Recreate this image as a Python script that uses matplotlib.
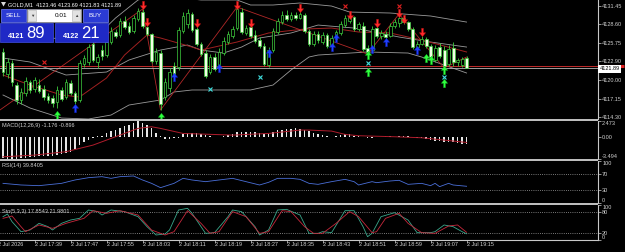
import matplotlib
matplotlib.use('Agg')
import matplotlib.pyplot as plt
from matplotlib.patches import Rectangle, Polygon
from matplotlib.path import Path
from matplotlib.transforms import blended_transform_factory

plt.rcParams['font.family'] = ['Liberation Sans', 'DejaVu Sans']

# ---- values: GOLD M1, bars 17:32 .. 19:15 ----
symbol = 'GOLD,M1'
bid = 4121.89
ask = 4122.21
lot = '0.01'

opens = [4124.34, 4120.95, 4122.64, 4119.26, 4116.96, 4118.03, 4119.72, 4118.65, 4119.26, 4118.65,
         4117.57, 4117.27, 4116.65, 4118.50, 4117.42, 4119.57, 4118.03, 4116.96, 4122.49, 4122.80,
         4125.56, 4122.80, 4124.64, 4123.87, 4125.87, 4127.41, 4126.95, 4129.10, 4128.33, 4127.56,
         4129.41, 4130.48, 4128.18, 4127.10, 4122.95, 4124.18, 4117.42, 4118.80, 4122.18, 4122.03,
         4127.56, 4128.64, 4130.18, 4127.87, 4125.56, 4124.18, 4121.26, 4123.57, 4122.03, 4124.18,
         4125.87, 4126.79, 4128.02, 4130.48, 4127.26, 4128.18, 4126.95, 4126.18, 4125.26, 4122.34,
         4124.64, 4127.41, 4128.94, 4130.02, 4129.41, 4130.02, 4129.56, 4130.02, 4127.56, 4125.56,
         4127.10, 4125.87, 4126.95, 4125.26, 4126.33, 4127.26, 4128.48, 4129.10, 4129.71, 4127.87,
         4128.33, 4124.95, 4124.64, 4128.02, 4126.79, 4127.10, 4126.79, 4128.33, 4128.79, 4129.56,
         4128.94, 4127.87, 4125.10, 4125.56, 4126.33, 4125.26, 4123.11, 4125.10, 4124.64, 4122.49,
         4124.95, 4122.80, 4122.34, 4123.46]
highs = [4124.95, 4123.41, 4123.11, 4119.72, 4118.80, 4120.49, 4120.03, 4120.49, 4120.19, 4119.26,
         4118.03, 4117.73, 4119.11, 4118.96, 4120.19, 4120.03, 4118.34, 4123.11, 4123.87, 4125.56,
         4126.18, 4124.03, 4125.41, 4126.49, 4128.18, 4127.87, 4129.56, 4129.87, 4128.94, 4130.02,
         4131.10, 4130.94, 4128.33, 4127.26, 4124.95, 4124.64, 4120.34, 4121.88, 4122.80, 4128.18,
         4130.48, 4130.94, 4130.48, 4128.18, 4125.87, 4124.64, 4124.03, 4124.18, 4124.95, 4126.64,
         4127.56, 4128.33, 4131.25, 4131.10, 4128.48, 4128.48, 4127.72, 4126.64, 4125.72, 4125.10,
         4128.02, 4129.56, 4130.64, 4130.79, 4130.48, 4130.48, 4130.64, 4130.33, 4127.87, 4127.56,
         4127.56, 4127.41, 4127.26, 4126.95, 4127.72, 4129.10, 4130.02, 4130.18, 4129.87, 4128.94,
         4128.94, 4125.41, 4128.33, 4128.48, 4127.72, 4127.56, 4128.79, 4129.41, 4130.18, 4130.02,
         4129.10, 4128.18, 4126.03, 4126.79, 4126.64, 4125.56, 4125.41, 4125.72, 4125.26, 4125.41,
         4125.87, 4123.41, 4123.57, 4123.69]
lows = [4120.65, 4120.34, 4119.11, 4116.34, 4116.34, 4117.57, 4118.03, 4118.19, 4118.03, 4116.96,
        4116.50, 4115.88, 4115.73, 4116.80, 4117.11, 4117.73, 4116.34, 4116.65, 4122.03, 4122.34,
        4122.80, 4121.88, 4123.11, 4123.57, 4125.56, 4126.49, 4126.64, 4127.87, 4127.10, 4127.26,
        4129.10, 4128.02, 4126.79, 4122.64, 4122.49, 4115.42, 4116.96, 4118.19, 4120.65, 4121.57,
        4127.26, 4128.02, 4127.41, 4125.26, 4123.72, 4120.34, 4120.95, 4121.42, 4121.57, 4123.87,
        4125.56, 4126.49, 4127.72, 4127.10, 4126.95, 4126.49, 4125.72, 4124.95, 4122.18, 4122.03,
        4124.34, 4127.10, 4128.64, 4129.10, 4129.10, 4129.25, 4129.41, 4127.26, 4125.26, 4125.26,
        4125.72, 4125.56, 4124.95, 4124.95, 4126.03, 4126.95, 4128.18, 4128.79, 4127.56, 4127.56,
        4124.49, 4124.03, 4124.34, 4126.49, 4126.33, 4126.18, 4126.64, 4128.02, 4128.18, 4128.64,
        4127.56, 4124.80, 4124.80, 4125.41, 4124.95, 4123.26, 4122.80, 4123.41, 4121.88, 4122.18,
        4122.18, 4122.18, 4122.03, 4121.83]
closes = [4121.26, 4122.80, 4119.72, 4116.96, 4118.19, 4119.88, 4118.50, 4120.03, 4118.34, 4117.42,
          4116.96, 4116.50, 4118.50, 4117.11, 4119.72, 4118.03, 4116.80, 4122.64, 4123.41, 4125.10,
          4123.11, 4123.57, 4123.72, 4125.87, 4127.56, 4126.79, 4129.10, 4128.18, 4127.41, 4129.56,
          4130.64, 4128.33, 4127.10, 4122.95, 4124.34, 4116.34, 4119.72, 4121.26, 4120.95, 4127.72,
          4129.87, 4130.33, 4127.72, 4125.56, 4124.03, 4120.65, 4123.57, 4121.72, 4124.34, 4126.03,
          4127.10, 4127.87, 4130.94, 4127.41, 4128.02, 4126.79, 4126.03, 4125.26, 4122.49, 4124.64,
          4127.56, 4129.10, 4130.02, 4129.41, 4130.02, 4129.56, 4130.18, 4127.56, 4125.56, 4127.10,
          4126.18, 4126.95, 4125.26, 4126.49, 4127.41, 4128.64, 4129.56, 4129.71, 4127.87, 4128.64,
          4124.80, 4124.34, 4127.87, 4126.79, 4127.26, 4126.64, 4128.33, 4128.94, 4129.56, 4128.94,
          4127.87, 4125.10, 4125.56, 4126.33, 4125.26, 4123.57, 4124.95, 4123.72, 4122.18, 4124.80,
          4122.80, 4123.11, 4123.26, 4121.89]

# overlay lines on the price chart, read every few bars
bb_up_idx = [0, 10, 20, 25, 30, 34, 38, 44, 52, 55, 60, 66, 73, 77, 86, 95, 103]
bb_up = [4127.72, 4126.49, 4126.18, 4129.56, 4132.33, 4133.10, 4132.79, 4132.33, 4132.33,
         4131.56, 4131.56, 4131.87, 4131.40, 4130.48, 4130.33, 4129.87, 4128.94]
bb_mid_idx = [0, 6, 14, 23, 28, 35, 41, 44, 49, 53, 57, 64, 70, 78, 88, 95, 103]
bb_mid = [4123.41, 4122.80, 4120.80, 4121.26, 4123.11, 4124.64, 4125.41, 4124.64, 4124.18,
          4125.10, 4126.49, 4127.26, 4128.48, 4128.02, 4126.64, 4125.87, 4125.10]
bb_low_idx = [0, 6, 13, 19, 24, 28, 35, 38, 42, 55, 60, 64, 68, 70, 81, 90, 93, 103]
bb_low = [4117.73, 4115.73, 4114.19, 4114.04, 4114.65, 4116.19, 4116.96, 4118.19, 4118.50,
          4118.50, 4119.26, 4121.57, 4123.57, 4123.87, 4124.34, 4124.18, 4123.57, 4121.11]
ma_idx = [0, 6, 13, 17, 23, 27, 32, 35, 42, 44, 52, 59, 67, 73, 79, 86, 93, 103]
ma = [4120.80, 4119.26, 4117.73, 4117.42, 4120.34, 4123.87, 4126.95, 4126.49, 4125.10,
      4124.64, 4125.87, 4127.26, 4127.87, 4128.02, 4127.41, 4127.26, 4126.18, 4124.34]
zig_idx = [-1, 31, 35, 52, 81, 88, 98, 103]
zig = [4115.27, 4130.94, 4115.42, 4131.25, 4124.03, 4130.18, 4121.88, 4123.57]

# signal marks
sell_idx = [31, 32, 43, 52, 55, 66, 77, 83, 88, 89, 93]
sell_px = [4131.56, 4128.94, 4128.79, 4131.56, 4128.79, 4131.10, 4130.02, 4128.79, 4130.33, 4129.41, 4127.41]
blue_idx = [16, 38, 48, 59, 73, 74, 82, 85, 92]
blue_px = [4115.73, 4120.49, 4121.88, 4124.18, 4125.10, 4126.49, 4124.80, 4125.87, 4124.64]
green_idx = [12, 35, 81, 81, 94, 95, 98, 98]
green_px = [4114.65, 4114.35, 4123.87, 4121.26, 4123.37, 4123.11, 4121.57, 4119.57]
cyan_idx = [46, 57, 81, 98]
cyan_px = [4118.65, 4120.49, 4122.64, 4120.49]
redx_idx = [9, 76, 88]
redx_px = [4122.80, 4131.40, 4131.40]

macd_hist = [-3.40, -3.45, -3.49, -3.45, -3.40, -3.35, -3.25, -3.20, -3.10, -3.05,
             -3.00, -2.95, -2.90, -2.75, -2.55, -2.35, -2.00, -1.30, -0.80, -0.50,
             -0.20, 0.05, 0.15, 0.52, 0.90, 1.05, 1.41, 1.67, 1.90, 2.09,
             2.47, 2.09, 1.83, 1.31, 0.52, 0.16, -0.37, -0.37, -0.26, -0.16,
             0.37, 0.52, 0.52, 0.52, 0.37, 0.26, 0.10, 0.02, -0.05, 0.16,
             0.26, 0.42, 0.68, 0.78, 0.78, 0.78, 0.68, 0.52, 0.37, 0.47,
             0.78, 0.99, 1.10, 1.20, 1.20, 1.31, 1.20, 1.05, 0.89, 0.65,
             0.37, 0.26, 0.16, 0.02, 0.16, 0.26, 0.37, 0.37, 0.16, 0.05,
             -0.05, -0.26, -0.16, -0.05, 0.02, 0.05, 0.05, 0.02, 0.10, 0.16,
             0.05, -0.05, -0.16, -0.26, -0.37, -0.52, -0.63, -0.68, -0.78, -0.84,
             -0.89, -0.99, -1.10, -1.176]
macd_sig_idx = [0, 7, 14, 20, 25, 30, 33, 35, 40, 51, 59, 66, 68, 73, 76, 79, 87, 93, 98, 103]
macd_sig = [-3.15, -2.88, -2.35, -1.31, 0.0, 1.31, 1.57, 1.31, 0.52, 0.26,
            0.52, 1.05, 1.05, 0.89, 0.37, 0.16, 0.0, -0.16, -0.52, -0.896]
macd_min, macd_max = -3.494, 2.473

rsi_idx = [0, 4, 8, 13, 16, 19, 22, 24, 26, 29, 31, 33, 35, 38, 40, 42, 45, 48, 51, 54, 57, 59,
           61, 64, 66, 68, 70, 73, 76, 78, 79, 82, 83, 86, 88, 90, 93, 95, 96, 97, 99, 100, 103]
rsi = [46.8, 42.9, 41.3, 46.8, 54.8, 60.3, 62.7, 58.7, 62.7, 64.3, 54.8, 46.8, 36.5, 46.8, 58.7,
       54.8, 50.8, 54.8, 58.7, 50.8, 42.9, 49.2, 58.7, 58.7, 56.3, 46.8, 44.4, 50.8, 56.3, 50.8,
       42.9, 50.8, 48.4, 52.4, 54.0, 44.4, 46.8, 41.3, 46.8, 38.9, 46.8, 42.9, 39.8405]

sto_main_idx = [0, 1, 2, 4, 6, 8, 10, 11, 13, 15, 17, 19, 21, 22, 24, 27, 29, 30, 32, 34,
                36, 37, 39, 41, 42, 45, 47, 50, 51, 53, 56, 57, 59, 61, 63, 66, 68, 70, 71, 73,
                76, 78, 80, 81, 82, 84, 87, 90, 92, 95, 96, 98, 100, 102, 103]
sto_main = [66.7, 74.3, 52.4, 23.8, 28.6, 47.6, 38.1, 28.6, 47.6, 57.1, 61.9, 85.7, 81.0, 71.4,
            85.7, 81.0, 71.4, 66.7, 38.1, 14.3, 17.1, 28.6, 85.7, 90.5, 76.2, 19.0, 21.0, 66.7,
            85.7, 81.0, 38.1, 14.3, 28.6, 85.7, 87.6, 71.4, 19.0, 19.0, 23.8, 21.0, 83.8, 83.8,
            38.1, 9.5, 19.0, 66.7, 78.1, 57.1, 21.0, 21.0, 23.8, 42.9, 38.1, 23.8, 17.8543]
sto_sig_idx = [0, 2, 4, 5, 8, 11, 14, 18, 20, 23, 26, 30, 33, 36, 38, 41, 44, 46, 48, 51,
               54, 57, 59, 62, 64, 67, 69, 71, 74, 77, 79, 82, 83, 85, 88, 90, 93, 96, 99, 101, 103]
sto_sig = [61.9, 68.6, 38.1, 23.8, 42.9, 33.3, 47.6, 61.9, 83.8, 76.2, 83.8, 71.4, 28.6, 14.3,
           23.8, 83.8, 47.6, 19.0, 23.8, 81.0, 66.7, 19.0, 23.8, 83.8, 81.0, 38.1, 19.0, 19.0,
           47.6, 81.0, 66.7, 21.0, 23.8, 61.9, 76.2, 47.6, 21.0, 19.0, 40.0, 42.9, 21.9801]

price_ticks = [4131.45, 4128.60, 4125.75, 4122.90, 4120.00, 4117.15, 4114.30]
time_idx = [-1, 7, 15, 23, 31, 39, 47, 55, 63, 71, 79, 87, 95, 103]
time_labels = ['2 Jul 2026', '2 Jul 17:39', '2 Jul 17:47', '2 Jul 17:55', '2 Jul 18:03',
               '2 Jul 18:11', '2 Jul 18:19', '2 Jul 18:27', '2 Jul 18:35', '2 Jul 18:43',
               '2 Jul 18:51', '2 Jul 18:59', '2 Jul 19:07', '2 Jul 19:15']

# ---- layout (pixels of a 625x252 canvas) ----
W, H = 625, 252
fig = plt.figure(figsize=(W / 100, H / 100), dpi=100, facecolor='black')
FG = '#d0d0d0'
GREEN = '#3fcf3f'
SMALL = 4.0


def px_axes(x0, y0, x1, y1):
    a = fig.add_axes([x0 / W, 1 - y1 / H, (x1 - x0) / W, (y1 - y0) / H], facecolor='black')
    for s in a.spines.values():
        s.set_visible(False)
    a.spines['right'].set_visible(True)
    a.spines['right'].set_color('#c8c8c8')
    a.spines['right'].set_linewidth(0.8)
    a.set_xlim(-2 / 3, 132.2)
    a.tick_params(axis='x', bottom=False, labelbottom=False)
    a.yaxis.tick_right()
    a.tick_params(axis='y', length=2, width=0.5, pad=1, colors=FG, labelsize=SMALL)
    return a


ax = px_axes(0, 0, 598, 119)
ax_macd = px_axes(0, 121, 598, 159)
ax_rsi = px_axes(0, 161, 598, 203)
ax_sto = px_axes(0, 205, 598, 240)

# ---- price chart ----
ax.set_ylim(4114.04, 4132.33)
ax.set_yticks(price_ticks)
ax.set_yticklabels([f'{v:.2f}' for v in price_ticks])

ax.plot(bb_up_idx, bb_up, color='#9a9a9a', lw=0.6, zorder=2)
ax.plot(bb_mid_idx, bb_mid, color='#9a9a9a', lw=0.6, zorder=2)
ax.plot(bb_low_idx, bb_low, color='#9a9a9a', lw=0.6, zorder=2)
ax.plot(ma_idx, ma, color='#a02020', lw=0.7, zorder=2)
ax.plot(zig_idx, zig, color='#b02828', lw=0.6, zorder=2)
ax.axhline(ask, color='#e03030', lw=0.6, zorder=2)
ax.axhline(bid, color='#b8b8b8', lw=0.6, zorder=2)

idx = list(range(len(opens)))
ax.vlines(idx, lows, highs, color=GREEN, lw=0.6, zorder=3)
for i in idx:
    o, c = opens[i], closes[i]
    face = 'black' if c > o else '#f2ffe6'
    ax.bar(i, max(abs(c - o), 0.04), bottom=min(o, c), width=0.64,
           color=face, edgecolor=GREEN, linewidth=0.5, zorder=4)

up = Path([(-0.22, -1), (0.22, -1), (0.22, 0.05), (0.75, 0.05), (0, 1),
           (-0.75, 0.05), (-0.22, 0.05), (-0.22, -1)],
          [Path.MOVETO] + [Path.LINETO] * 6 + [Path.CLOSEPOLY])
down = Path([(x, -y) for x, y in up.vertices], up.codes)
ax.plot(sell_idx, sell_px, ls='none', marker=down, ms=6, mfc='#ff2a2a', mec='#c01010', mew=0.3, zorder=6)
ax.plot(blue_idx, blue_px, ls='none', marker=up, ms=6, mfc='#2040ff', mec='#1020c0', mew=0.3, zorder=6)
ax.plot(green_idx, green_px, ls='none', marker=up, ms=6, mfc='#30ff40', mec='#10c020', mew=0.3, zorder=6)
ax.plot(cyan_idx, cyan_px, ls='none', marker='x', ms=2.6, mec='#40e0e0', mew=0.8, zorder=6)
ax.plot(redx_idx, redx_px, ls='none', marker='x', ms=2.6, mec='#e02020', mew=0.8, zorder=6)

side = blended_transform_factory(ax.transAxes, ax.transData)
ax.plot([1.0, 1.043], [ask, ask], transform=side, color='#e02020', lw=2.2,
        solid_capstyle='butt', clip_on=False, zorder=7)
ax.text(1.003, bid - 0.12, f'{bid:.2f}', transform=side, ha='left', va='center', fontsize=SMALL,
        color='black', clip_on=False, zorder=8,
        bbox=dict(boxstyle='square,pad=0.25', fc='white', ec='white', lw=0))

# ---- MACD ----
ax_macd.set_ylim(macd_min, macd_max)
ax_macd.bar(idx, macd_hist, width=0.38, color='#e6e6e6', linewidth=0)
ax_macd.plot(macd_sig_idx, macd_sig, color='#b01c2c', lw=0.7)
ax_macd.set_yticks([macd_max, 0.0, macd_min])
ax_macd.set_yticklabels([f'{macd_max:.3f}', '0.00', f'{macd_min:.3f}'])
labs = ax_macd.get_yticklabels()
labs[0].set_va('top')
labs[2].set_va('bottom')

# ---- RSI ----
ax_rsi.set_ylim(0, 100)
for lvl in (70, 30):
    ax_rsi.axhline(lvl, color='#a0a0a0', lw=0.6, ls=(0, (1, 1.6)))
ax_rsi.plot(rsi_idx, rsi, color='#4a6fd8', lw=0.6)
ax_rsi.set_yticks([100, 70, 30, 0])
ax_rsi.set_yticklabels(['100', '70', '30', '0'])
labs = ax_rsi.get_yticklabels()
labs[0].set_va('top')
labs[3].set_va('bottom')

# ---- Stochastic ----
ax_sto.set_ylim(0, 100)
for lvl in (80, 20):
    ax_sto.axhline(lvl, color='#a0a0a0', lw=0.6, ls=(0, (1, 1.6)))
ax_sto.plot(sto_main_idx, sto_main, color='#3aa88c', lw=0.6)
ax_sto.plot(sto_sig_idx, sto_sig, color='#c8283c', lw=0.6)
ax_sto.set_yticks([100, 80, 20, 0])
ax_sto.set_yticklabels(['100', '80', '20', '0'])
labs = ax_sto.get_yticklabels()
labs[0].set_va('top')
labs[3].set_va('bottom')
ax_sto.spines['bottom'].set_visible(True)
ax_sto.spines['bottom'].set_color('#c8c8c8')
ax_sto.spines['bottom'].set_linewidth(0.8)
ax_sto.set_xticks(time_idx[1:])
ax_sto.tick_params(axis='x', bottom=True, labelbottom=False, length=2, width=0.5, colors=FG)
tb = blended_transform_factory(ax_sto.transData, ax_sto.transAxes)
for t, lab in zip(time_idx, time_labels):
    ax_sto.text(t, -0.07, lab, transform=tb, ha='left', va='top', fontsize=SMALL,
                color=FG, clip_on=False)

# ---- overlay: separators, titles and the one-click trading panel ----
ov = fig.add_axes([0, 0, 1, 1])
ov.set_xlim(0, W)
ov.set_ylim(H, 0)
ov.axis('off')
for y in (119, 159, 203):
    ov.add_patch(Rectangle((0, y), 598, 2, color='#bdbdbd', lw=0))

ov.add_patch(Polygon([(1, 2), (6, 2), (3.5, 6.5)], closed=True, color='#d8d8d8', lw=0))
ov.text(8, 4.6, f'{symbol}  {opens[-1]:.2f} {highs[-1]:.2f} {lows[-1]:.2f} {closes[-1]:.2f}',
        color='white', fontsize=SMALL, va='center', ha='left')
ov.text(2, 126, f'MACD(12,26,9) {macd_hist[-1]:.3f} {macd_sig[-1]:.3f}',
        color=FG, fontsize=SMALL, va='center')
ov.text(2, 166, f'RSI(14) {rsi[-1]:.4f}', color=FG, fontsize=SMALL, va='center')
ov.text(2, 211, f'Sto(5,3,3) {sto_main[-1]:.4f} {sto_sig[-1]:.4f}', color=FG, fontsize=SMALL, va='center')

BTN = '#2b3bd4'
BOX = '#1f29c6'
ov.add_patch(Rectangle((1, 9), 25, 13, fc=BTN, ec='#7080ff', lw=0.5))
ov.text(13.5, 15.8, 'SELL', color='white', fontsize=4.6, ha='center', va='center')
ov.add_patch(Rectangle((83, 9), 25, 13, fc=BTN, ec='#7080ff', lw=0.5))
ov.text(95.5, 15.8, 'BUY', color='white', fontsize=4.6, ha='center', va='center')
ov.add_patch(Rectangle((27, 9), 54, 13, fc='white', ec='#9090a0', lw=0.5))
ov.add_patch(Rectangle((28, 10), 8, 11, fc='#e2e2e2', ec='#b0b0b0', lw=0.4))
ov.add_patch(Rectangle((72, 10), 8, 11, fc='#e2e2e2', ec='#b0b0b0', lw=0.4))
ov.text(32, 15.8, '▼', color='#404040', fontsize=3.2, ha='center', va='center')
ov.text(76, 15.8, '▲', color='#404040', fontsize=3.2, ha='center', va='center')
ov.text(61, 15.8, lot, color='black', fontsize=4.6, ha='center', va='center')

bid_s, ask_s = f'{bid:.2f}', f'{ask:.2f}'
ov.add_patch(Rectangle((0, 23), 53, 19, fc=BOX, ec='#4050e0', lw=0.5))
ov.add_patch(Rectangle((55, 23), 53, 19, fc=BOX, ec='#4050e0', lw=0.5))
ov.text(8, 37.6, bid_s[:4], color='white', fontsize=5.2, weight='bold', ha='left', va='baseline')
ov.text(26, 38.5, bid_s[5:], color='white', fontsize=12, ha='left', va='baseline')
ov.text(63, 37.6, ask_s[:4], color='white', fontsize=5.2, weight='bold', ha='left', va='baseline')
ov.text(81, 38.5, ask_s[5:], color='white', fontsize=12, ha='left', va='baseline')

fig.savefig('out.png', dpi=100, facecolor='black')
print('Saved out.png')
